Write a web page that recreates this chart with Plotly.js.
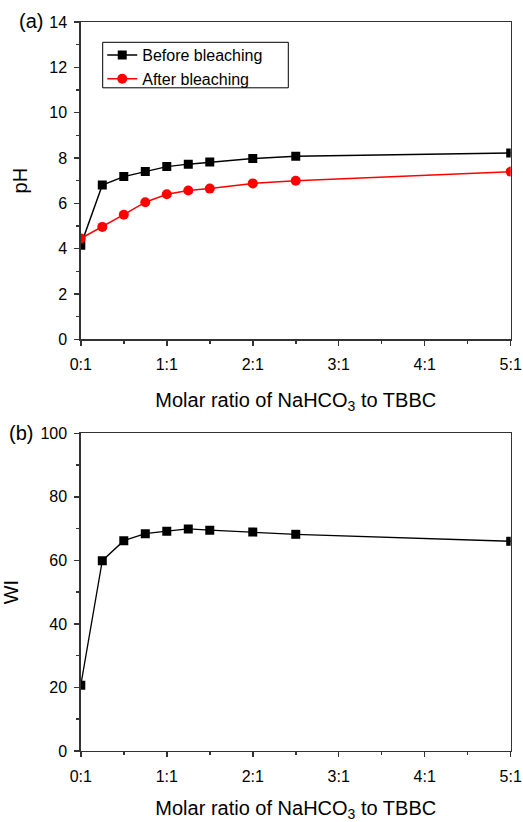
<!DOCTYPE html>
<html>
<head>
<meta charset="utf-8">
<script src="https://cdn.plot.ly/plotly-3.0.1.min.js"></script>
<style>html,body{margin:0;padding:0;background:#fff;}#chart{width:523px;height:822px;}</style>
</head>
<body>
<div id="chart"></div>
<script>
const ratio = [0, 0.25, 0.5, 0.75, 1, 1.25, 1.5, 2, 2.5, 5];
const phBefore = [4.15, 6.81, 7.18, 7.41, 7.62, 7.73, 7.82, 7.98, 8.08, 8.22];
const phAfter = [4.45, 4.96, 5.5, 6.05, 6.4, 6.57, 6.65, 6.88, 7.0, 7.4];
const whiteness = [20.7, 59.9, 66.2, 68.4, 69.2, 69.9, 69.5, 68.9, 68.2, 66.0];
const xTickVals = [0, 1, 2, 3, 4, 5];
const xTickText = ['0:1', '1:1', '2:1', '3:1', '4:1', '5:1'];
const seriesNames = ['Before bleaching', 'After bleaching'];

const FONT = 'Liberation Sans, Arial, sans-serif';
const axisCol = '#333';
const TICK_SIZE = 16, TITLE_SIZE = 20;

const traces = [
  {x: ratio, y: phBefore, name: seriesNames[0], type: 'scatter', mode: 'lines+markers',
   line: {color: '#000', width: 1.5}, marker: {symbol: 'square', size: 9, color: '#000'},
   xaxis: 'x', yaxis: 'y'},
  {x: ratio, y: phAfter, name: seriesNames[1], type: 'scatter', mode: 'lines+markers',
   line: {color: '#ff0000', width: 1.5}, marker: {symbol: 'circle', size: 10, color: '#ff0000'},
   xaxis: 'x', yaxis: 'y'},
  {x: ratio, y: whiteness, name: 'WI', type: 'scatter', mode: 'lines+markers', showlegend: false,
   line: {color: '#000', width: 1.3}, marker: {symbol: 'square', size: 9, color: '#000'},
   xaxis: 'x2', yaxis: 'y2'}
];

function xAxis(anchor) {
  return {
    domain: [0.1545, 0.9765], anchor: anchor, range: [0, 5],
    tickvals: xTickVals, ticktext: xTickText,
    ticks: 'outside', ticklen: 5, tickwidth: 1.5, tickcolor: axisCol,
    minor: {ticks: 'outside', dtick: 0.5, tick0: 0, ticklen: 3, tickwidth: 1.5, tickcolor: axisCol, showgrid: false},
    showline: true, linecolor: axisCol, linewidth: 1.5, mirror: true,
    showgrid: false, zeroline: false, ticklabelstandoff: 5,
    tickfont: {family: FONT, size: TICK_SIZE, color: '#000'},
    title: {text: 'Molar ratio of NaHCO<sub>3</sub> to TBBC', font: {family: FONT, size: TITLE_SIZE, color: '#000'}, standoff: 21}
  };
}

function yAxis(dom, anchor, range, dtick, minorDtick, title) {
  return {
    domain: dom, anchor: anchor, range: range, dtick: dtick,
    ticks: 'outside', ticklen: 5, tickwidth: 1.5, tickcolor: axisCol,
    minor: {ticks: 'outside', dtick: minorDtick, ticklen: 3, tickwidth: 1.5, tickcolor: axisCol, showgrid: false},
    showline: true, linecolor: axisCol, linewidth: 1.5, mirror: true,
    showgrid: false, zeroline: false, ticklabelstandoff: 4,
    tickfont: {family: FONT, size: TICK_SIZE, color: '#000'},
    title: {text: title, font: {family: FONT, size: TITLE_SIZE, color: '#000'}, standoff: 16}
  };
}

const layout = {
  width: 523, height: 822,
  margin: {l: 0, r: 0, t: 0, b: 0},
  paper_bgcolor: '#fff', plot_bgcolor: '#fff',
  font: {family: FONT, color: '#000'},
  showlegend: true,
  legend: {x: 0.1955, y: 0.9538, xanchor: 'left', yanchor: 'top',
           borderwidth: 0, bgcolor: 'rgba(0,0,0,0)',
           font: {family: FONT, size: 16, color: '#000'}, tracegroupgap: 0},
  xaxis: xAxis('y'),
  xaxis2: xAxis('y2'),
  yaxis: yAxis([0.5872, 0.9732], 'x', [0, 14], 2, 1, 'pH'),
  yaxis2: yAxis([0.0864, 0.4729], 'x2', [0, 100], 20, 10, 'WI'),
  shapes: [
    {type: 'rect', xref: 'paper', yref: 'paper', x0: 102.7 / 523, x1: 288.3 / 523,
     y0: 1 - 87.8 / 822, y1: 1 - 42.3 / 822, line: {color: '#000', width: 1}, fillcolor: 'rgba(0,0,0,0)'}
  ],
  annotations: [
    {text: '(a)', xref: 'paper', yref: 'paper', x: 30.5 / 523, y: 1 - 21 / 822, xanchor: 'center', yanchor: 'middle',
     showarrow: false, font: {family: FONT, size: 20, color: '#000'}},
    {text: '(b)', xref: 'paper', yref: 'paper', x: 21 / 523, y: 1 - 433 / 822, xanchor: 'center', yanchor: 'middle',
     showarrow: false, font: {family: FONT, size: 20, color: '#000'}}
  ]
};

Plotly.newPlot('chart', traces, layout, {displayModeBar: false, staticPlot: true});
</script>
</body>
</html>
